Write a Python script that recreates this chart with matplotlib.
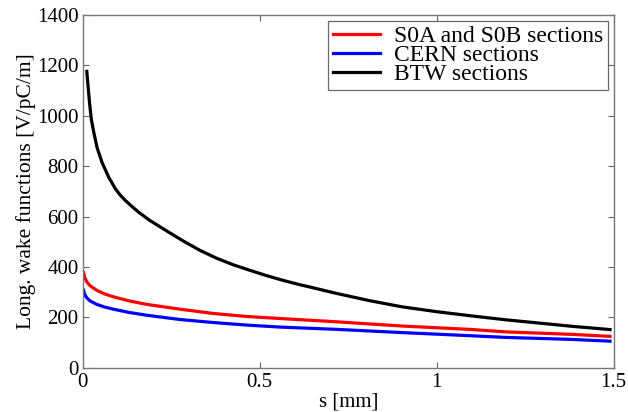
import matplotlib
matplotlib.use("Agg")
import matplotlib.pyplot as plt

# longitudinal wake functions per section type, s in mm, W in V/pC/m
s_s0 = [0.002, 0.005, 0.011, 0.02, 0.039, 0.06, 0.086, 0.13, 0.180, 0.274,
        0.368, 0.462, 0.556, 0.715, 0.903, 1.091, 1.194, 1.382, 1.49]
w_s0 = [378, 360, 341, 326, 308, 294, 282, 266, 252, 233,
        216, 204, 196, 183, 166, 153, 143, 133, 125]

s_cern = [0.002, 0.005, 0.011, 0.02, 0.039, 0.06, 0.086, 0.13, 0.180, 0.274,
          0.368, 0.462, 0.556, 0.715, 0.903, 1.091, 1.194, 1.382, 1.49]
w_cern = [308, 292, 278, 266, 252, 242, 233, 220, 209, 192,
          180, 170, 162, 153, 140, 128, 121, 113, 106]

s_btw = [0.011, 0.015, 0.019, 0.024, 0.031, 0.040, 0.054, 0.073, 0.092,
         0.105, 0.120, 0.138, 0.158, 0.190, 0.237, 0.284, 0.331, 0.378,
         0.425, 0.472, 0.519, 0.566, 0.613, 0.641, 0.715, 0.809, 0.903,
         1.0, 1.1, 1.194, 1.288, 1.382, 1.49]
w_btw = [1176, 1110, 1048, 984, 933, 874, 815, 756, 710,
         686, 664, 641, 617, 584, 543, 503, 466, 435,
         409, 387, 366, 347, 330, 321, 296, 267, 242,
         223, 206, 191, 178, 165, 152]

labels = ["S0A and S0B sections", "CERN sections", "BTW sections"]

plt.rcParams["font.family"] = ["Liberation Serif", "DejaVu Serif"]

fig = plt.figure(figsize=(6.28, 4.12), dpi=100)
ax = fig.add_axes([0.132, 0.107, 0.845, 0.857])

ax.plot(s_s0, w_s0, color="#ff0000", lw=2.3, solid_joinstyle="round")
ax.plot(s_cern, w_cern, color="#0000ff", lw=2.3, solid_joinstyle="round")
ax.plot(s_btw, w_btw, color="black", lw=2.3, solid_joinstyle="round")

ax.set_xlim(0, 1.5)
ax.set_ylim(0, 1400)
ax.set_xticks([0, 0.5, 1, 1.5])
ax.set_xticklabels(["0", "0.5", "1", "1.5"])
ax.set_yticks(range(0, 1401, 200))

ax.tick_params(direction="in", top=True, right=True, length=4,
               labelsize=15, color="#666666")
ax.tick_params(axis="x", pad=4)
ax.tick_params(axis="y", pad=3)
for sp in ax.spines.values():
    sp.set_color("#777777")
    sp.set_linewidth(1.0)

ax.set_xlabel("s [mm]", fontsize=15, labelpad=0)
ax.set_ylabel("Long. wake functions [V/pC/m]", fontsize=15.5, labelpad=1)

leg = ax.legend(labels, loc="upper right", fontsize=17, frameon=True,
                fancybox=False, handlelength=2.0, handletextpad=0.6,
                borderpad=0.2, labelspacing=-0.1, borderaxespad=0,
                bbox_to_anchor=(0.99, 0.983))
leg.get_frame().set_edgecolor("#444444")
leg.get_frame().set_linewidth(0.9)

fig.savefig("out.png", dpi=100)
